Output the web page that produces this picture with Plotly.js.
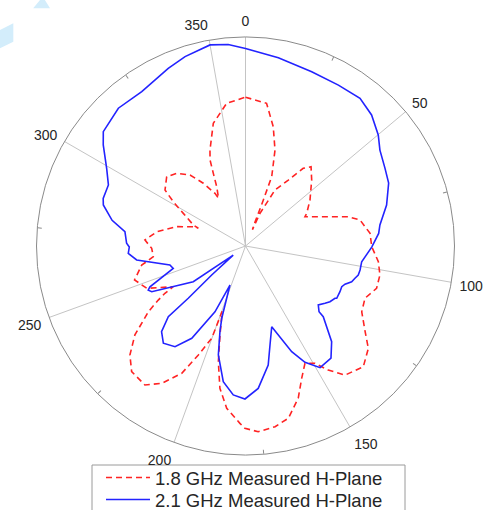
<!DOCTYPE html>
<html>
<head>
<meta charset="utf-8">
<script src="https://cdn.plot.ly/plotly-3.0.1.min.js"></script>
<style>html,body{margin:0;padding:0;background:#fff;}#chart{width:488px;height:510px;}</style>
</head>
<body>
<div id="chart"></div>
<script>
// Series: angle (degrees, clockwise from top) and normalized radius
const seriesNames = ["1.8 GHz Measured H-Plane", "2.1 GHz Measured H-Plane"];

const theta18 = [0, 8.4, 13.1, 17.1, 20.7, 21.2, 22.0, 23.0, 23.9, 27.8, 33.0, 36.6, 39.6, 45.1, 54.5, 61.9, 63.8, 70.5, 74.1, 77.2, 84.2, 90.3, 96.7, 102.2, 107.9, 113.6, 119.5, 125.6, 129.8, 135.7, 142.4, 146.3, 149.4, 153.1, 157.0, 160.9, 166.0, 170.7, 176.1, 180.2, 181.8, 186.6, 190.2, 193.2, 196.0, 198.6, 199.7, 200.1, 203.4, 206.6, 211.4, 215.9, 222.2, 226.7, 231.2, 235.9, 238.2, 239.6, 240.6, 246.8, 253.0, 259.6, 261.0, 263.4, 268.6, 273.4, 279.1, 285.7, 290.3, 290.6, 291.9, 297.7, 301.5, 304.8, 311.3, 316.6, 322.0, 326.1, 329.9, 330.5, 334.1, 336.1, 337.6, 339.7, 345.3, 352.5, 360];
const r18 = [0.712, 0.690, 0.586, 0.480, 0.355, 0.236, 0.100, 0.085, 0.171, 0.303, 0.376, 0.463, 0.492, 0.447, 0.379, 0.332, 0.317, 0.420, 0.511, 0.562, 0.599, 0.604, 0.640, 0.658, 0.659, 0.624, 0.639, 0.704, 0.765, 0.807, 0.780, 0.713, 0.652, 0.629, 0.688, 0.771, 0.849, 0.876, 0.891, 0.872, 0.849, 0.782, 0.692, 0.569, 0.443, 0.357, 0.332, 0.470, 0.568, 0.681, 0.770, 0.821, 0.811, 0.760, 0.679, 0.561, 0.491, 0.447, 0.397, 0.514, 0.555, 0.505, 0.479, 0.444, 0.449, 0.482, 0.430, 0.342, 0.266, 0.241, 0.269, 0.336, 0.405, 0.469, 0.502, 0.479, 0.431, 0.362, 0.291, 0.262, 0.315, 0.380, 0.445, 0.490, 0.607, 0.689, 0.712];

const theta21 = [0, 9.9, 20.8, 30.0, 37.8, 43.9, 50.1, 54.5, 60.9, 66.3, 73.8, 81.1, 84.6, 90.5, 97.7, 101.8, 104.4, 106.4, 108.6, 111.0, 112.9, 115.8, 119.8, 120.3, 123.4, 125.8, 129.0, 131.8, 132.3, 138.0, 142.7, 148.5, 152.9, 156.4, 162.0, 166.1, 169.2, 174.9, 180.2, 184.7, 189.3, 194.0, 196.6, 198.2, 201.7, 204.9, 210.2, 215.0, 220.2, 224.4, 227.5, 227.6, 229.4, 233.6, 235.6, 244.0, 245.6, 246.9, 252.8, 255.9, 262.7, 266.4, 269.5, 271.3, 276.8, 280.9, 286.1, 288.5, 294.0, 299.2, 305.4, 308.8, 317.3, 326.1, 336.5, 342.3, 350.0, 355.1, 360];
const r21 = [0.945, 0.914, 0.892, 0.889, 0.894, 0.870, 0.828, 0.790, 0.764, 0.748, 0.703, 0.651, 0.640, 0.604, 0.561, 0.560, 0.557, 0.546, 0.536, 0.510, 0.500, 0.502, 0.503, 0.496, 0.484, 0.469, 0.448, 0.472, 0.503, 0.616, 0.675, 0.683, 0.625, 0.552, 0.406, 0.488, 0.580, 0.684, 0.732, 0.715, 0.658, 0.537, 0.428, 0.364, 0.201, 0.347, 0.511, 0.588, 0.609, 0.574, 0.501, 0.371, 0.213, 0.073, 0.303, 0.499, 0.511, 0.497, 0.362, 0.373, 0.525, 0.562, 0.556, 0.569, 0.581, 0.650, 0.708, 0.718, 0.718, 0.761, 0.835, 0.873, 0.897, 0.890, 0.927, 0.951, 0.977, 0.968, 0.945];

const majorTicks = [0, 50, 100, 150, 200, 250, 300, 350];
const majorLabels = ["0", "50", "100", "150", "200", "250", "300", "350"];
const minorTicks = [25, 75, 125, 175, 225, 275, 325];

const FONT = "Liberation Sans, Arial, sans-serif";
const W = 488, H = 510;
const cx = 245.5, cy = 246, R = 209;
const dom = {
  x: [(cx - R) / W, (cx + R) / W],
  y: [(H - (cy + R)) / H, (H - (cy - R)) / H]
};

const traces = [
  {
    type: "scatterpolar", mode: "lines", name: seriesNames[0],
    theta: theta18, r: r18, subplot: "polar", legend: "legend",
    line: {color: "rgb(255,35,35)", width: 1.6, dash: "6px,4px"}
  },
  {
    type: "scatterpolar", mode: "lines", name: seriesNames[1],
    theta: theta21, r: r21, subplot: "polar", legend: "legend2",
    line: {color: "rgb(35,35,255)", width: 1.6}
  },
  {
    type: "scatterpolar", mode: "lines", theta: [], r: [], subplot: "polar2",
    showlegend: false, hoverinfo: "skip"
  }
];

const legendCommon = {
  xanchor: "left", yanchor: "middle",
  bgcolor: "rgba(0,0,0,0)", borderwidth: 0,
  font: {family: FONT, size: 18.5, color: "#262626"},
  itemwidth: 44
};

const layout = {
  width: W, height: H,
  margin: {l: 0, r: 0, t: 0, b: 0, autoexpand: false},
  paper_bgcolor: "white",
  font: {family: FONT, color: "#262626"},
  showlegend: true,
  polar: {
    domain: dom,
    bgcolor: "white",
    angularaxis: {
      rotation: 90, direction: "clockwise",
      tickmode: "array", tickvals: majorTicks, ticktext: majorLabels,
      showgrid: true, gridcolor: "#c4c4c4", gridwidth: 1,
      showline: true, linecolor: "#8a8a8a", linewidth: 1,
      ticks: "outside", ticklen: 5, tickcolor: "rgba(0,0,0,0)",
      tickfont: {family: FONT, size: 14, color: "#262626"}
    },
    radialaxis: {range: [0, 1], visible: false}
  },
  polar2: {
    domain: dom,
    bgcolor: "rgba(0,0,0,0)",
    angularaxis: {
      rotation: 90, direction: "clockwise",
      tickmode: "array", tickvals: minorTicks,
      showgrid: false, showline: false, showticklabels: false,
      ticks: "inside", ticklen: 4, tickcolor: "#8a8a8a", tickwidth: 1
    },
    radialaxis: {range: [0, 1], visible: false}
  },
  legend: Object.assign({x: 101 / W, y: (H - 478) / H}, legendCommon),
  legend2: Object.assign({x: 101 / W, y: (H - 500) / H}, legendCommon),
  shapes: [
    {type: "rect", xref: "paper", yref: "paper", x0: 92 / W, x1: 405 / W, y0: -0.02, y1: (H - 465) / H,
     fillcolor: "white", line: {color: "#9a9a9a", width: 1}, layer: "below"},
    {type: "path", xref: "paper", yref: "paper", path: "M 0.082,1 L 0.092,1 L 0.1025,0.9837 L 0.068,0.9837 Z", fillcolor: "#d3edfb", line: {width: 0}, layer: "below"},
    {type: "path", xref: "paper", yref: "paper", path: "M 0,0.941 L 0.0273,0.9543 L 0.0273,0.9182 L 0,0.9053 Z", fillcolor: "#d3edfb", line: {width: 0}, layer: "below"}
  ]
};

Plotly.newPlot("chart", traces, layout, {displayModeBar: false, staticPlot: true});
</script>
</body>
</html>
